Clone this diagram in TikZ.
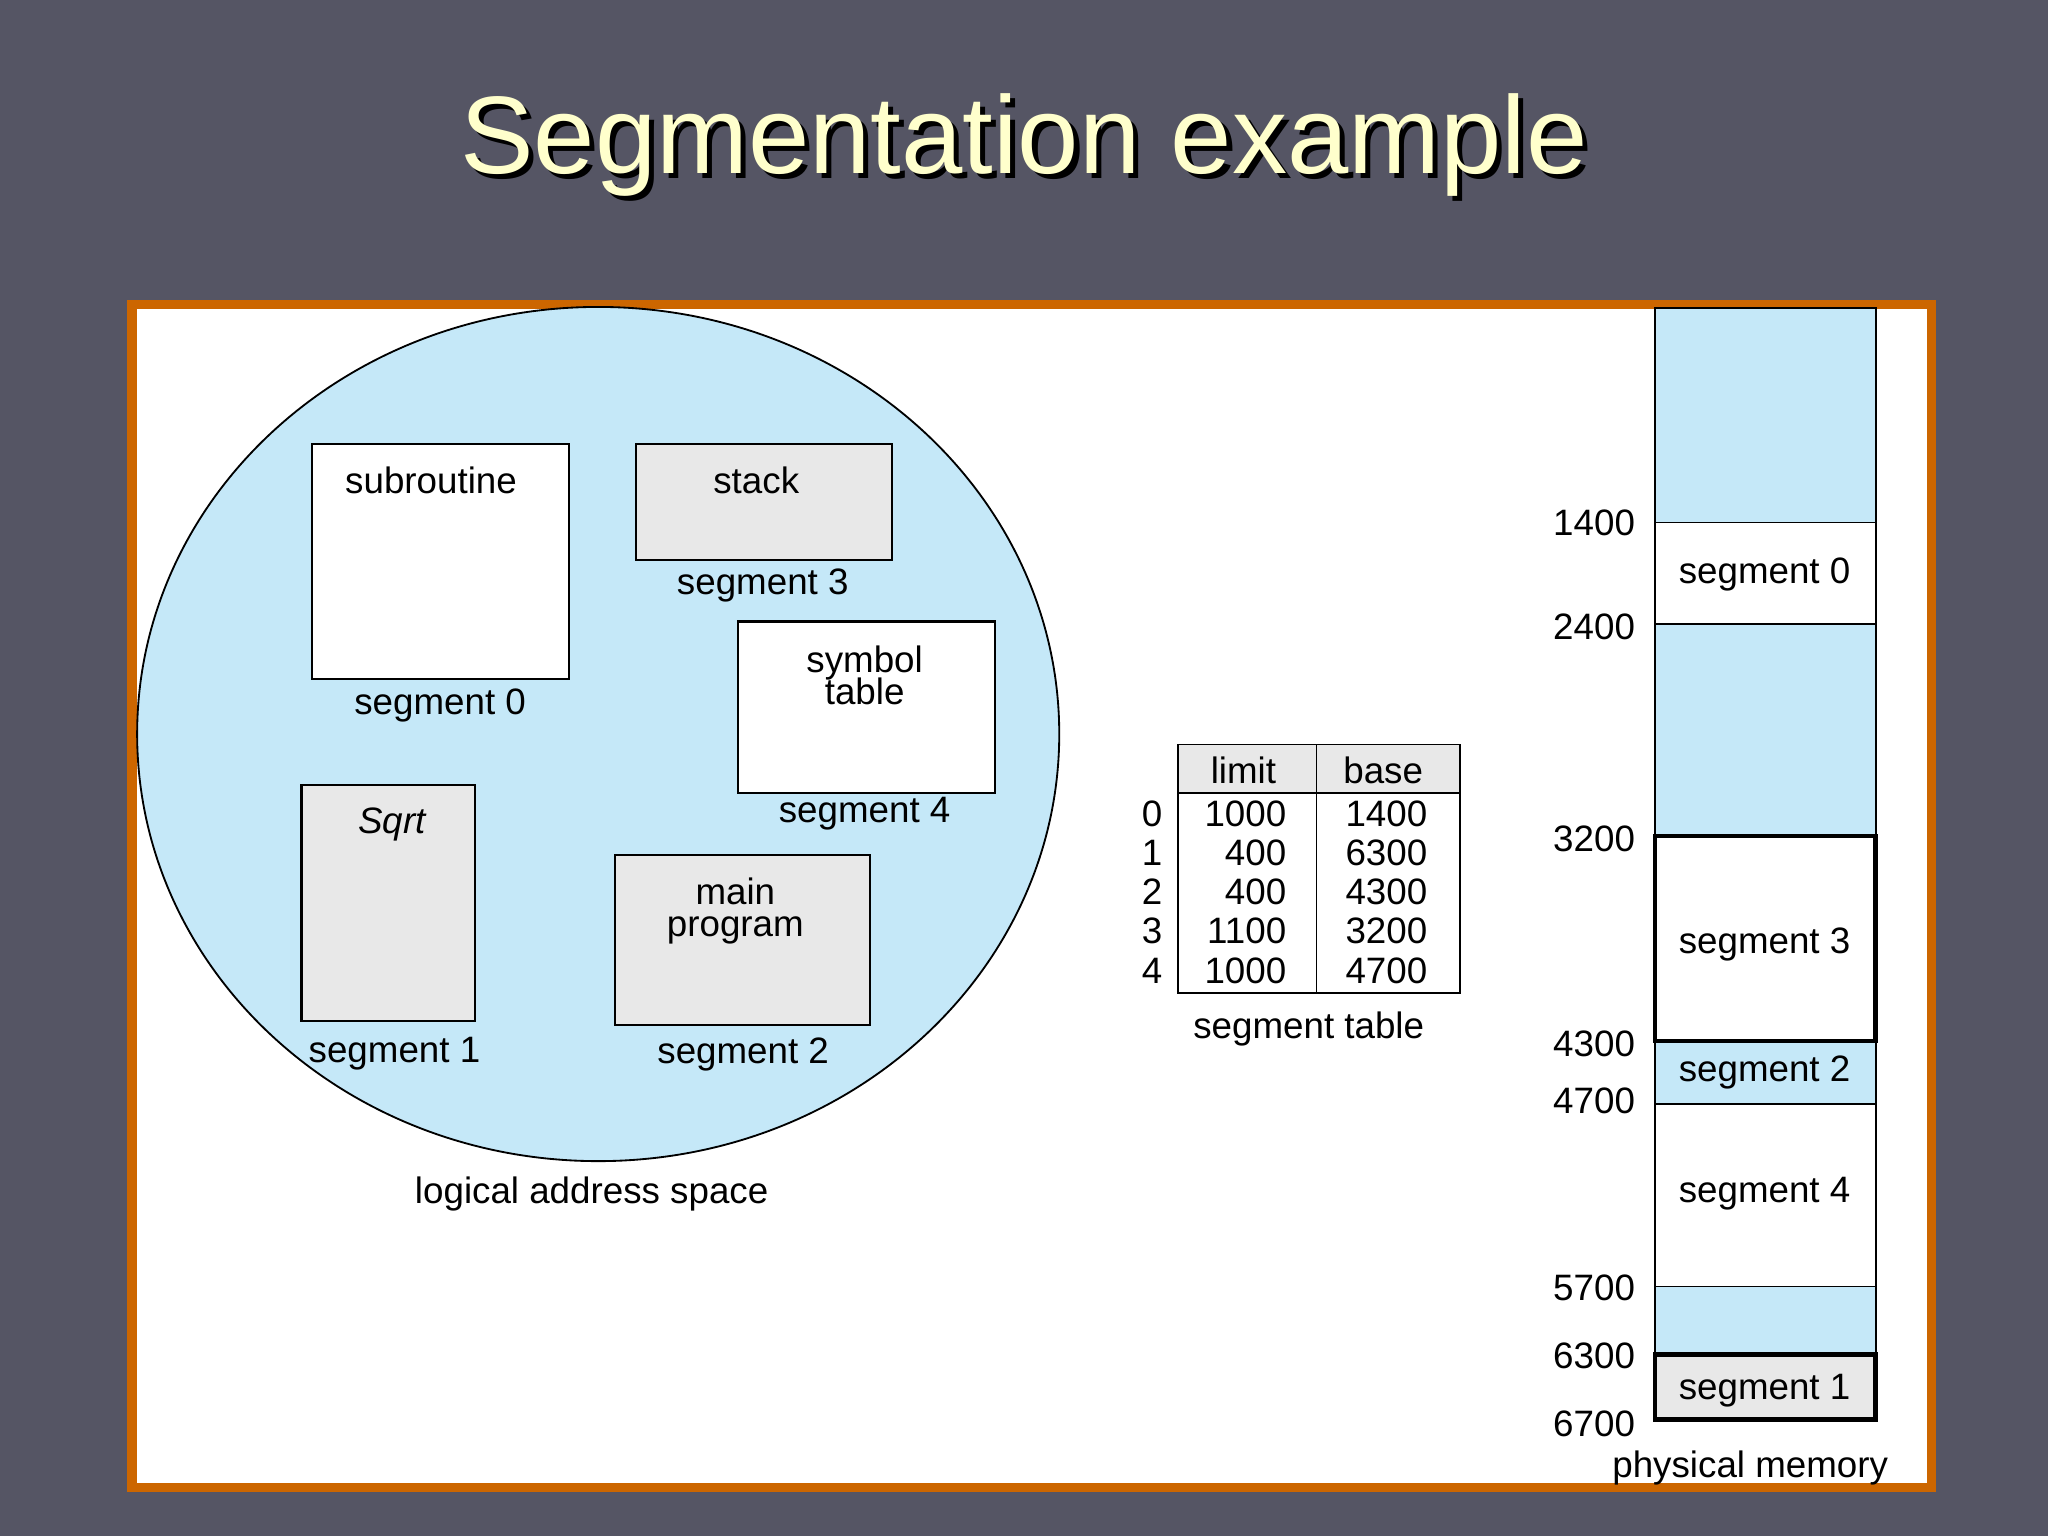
\documentclass[tikz,border=0pt]{standalone}
\usepackage{fontspec}
\setmainfont{Liberation Sans}
\begin{document}
\begin{tikzpicture}[x=0.01cm,y=-0.01cm,
  lbl/.style={font=\fontsize{8}{9}\selectfont, inner sep=1pt},
  seg/.style={draw=black, line width=0.5pt},
  mem/.style={draw=black, line width=0.4pt}]
\definecolor{bg}{RGB}{85,85,100}
\definecolor{frame}{RGB}{204,102,0}
\definecolor{lb}{RGB}{197,232,248}
\definecolor{gr}{RGB}{232,232,232}
\definecolor{ttl}{RGB}{255,255,204}
\useasboundingbox (0,0) rectangle (1568,1176);
\fill[bg] (0,0) rectangle (1568,1176);
\node[font=\fontsize{24}{28}\selectfont, text=black] at (788,115) {Segmentation example};
\node[font=\fontsize{24}{28}\selectfont, text=ttl] (title) at (784,111) {Segmentation example};
\draw[frame, line width=2pt, fill=white] (101,233) rectangle (1479,1139);
% ellipse
\fill[lb, draw=black, line width=0.4pt] (458,562) ellipse [x radius=353, y radius=327];
% segments
\node[seg, fill=white, minimum width=197*0.01cm, minimum height=180*0.01cm, anchor=north west] (s0) at (238,339) {};
\node[lbl, anchor=north] at (330,353) {subroutine};
\node[lbl] (l0) at (337,540) {segment 0};
\node[seg, fill=gr, minimum width=196*0.01cm, minimum height=89*0.01cm, anchor=north west] (s3) at (486,339) {};
\node[lbl, anchor=north] at (579,353) {stack};
\node[lbl] (l3) at (584,448) {segment 3};
\node[seg, fill=white, minimum width=197*0.01cm, minimum height=131*0.01cm, anchor=north west] (s4) at (564,475) {};
\node[lbl, anchor=north, align=center] at (662,490) {symbol\\[-2pt]table};
\node[lbl] (l4) at (662,623) {segment 4};
\node[seg, fill=gr, minimum width=133*0.01cm, minimum height=181*0.01cm, anchor=north west] (s1) at (230,600) {};
\node[lbl, anchor=north] at (300,614) {\itshape Sqrt};
\node[lbl] (l1) at (302,807) {segment 1};
\node[seg, fill=gr, minimum width=195*0.01cm, minimum height=130*0.01cm, anchor=north west] (s2) at (470,654) {};
\node[lbl, anchor=north, align=center] at (563,668) {main\\[-2pt]program};
\node[lbl] (l2) at (569,807) {segment 2};
\node[lbl] (las) at (453,914) {logical address space};
% table
\fill[gr] (902,570) rectangle (1118,607);
\draw[line width=0.4pt] (902,570) rectangle (1118,760);
\draw[line width=0.4pt] (902,607) -- (1118,607);
\draw[line width=0.4pt] (1008,570) -- (1008,760);
\node[lbl] (hl) at (952,590) {limit};
\node[lbl] (hb) at (1059,590) {base};
\foreach \i/\l/\b [count=\k from 0] in {0/1000/1400,1/400/6300,2/400/4300,3/1100/3200,4/1000/4700}{
  \node[lbl] at (882,623+30*\k) {\i};
  \node[lbl, anchor=east] at (989,623+30*\k) {\l};
  \node[lbl, anchor=east] at (1097,623+30*\k) {\b};
}
\node[lbl] (st) at (1002,788) {segment table};
% physical memory
\def\mx{1267}\def\mX{1436}
\fill[lb] (\mx,236) rectangle (\mX,400);
\fill[white] (\mx,400) rectangle (\mX,478);
\fill[lb] (\mx,478) rectangle (\mX,640);
\fill[white] (\mx,640) rectangle (\mX,797);
\fill[lb] (\mx,797) rectangle (\mX,845);
\fill[white] (\mx,845) rectangle (\mX,985);
\fill[lb] (\mx,985) rectangle (\mX,1037);
\fill[gr] (\mx,1037) rectangle (\mX,1087);
\draw[mem] (\mx,236) rectangle (\mX,1087);
\foreach \y in {400,478,797,845,985,1037} \draw[mem] (\mx,\y) -- (\mX,\y);
\draw[line width=1pt] (\mx,640) rectangle (\mX,797);
\draw[line width=1pt] (\mx,1037) rectangle (\mX,1087);
\node[lbl] at (1351,440) {segment 0};
\node[lbl] at (1351,723) {segment 3};
\node[lbl] at (1351,821) {segment 2};
\node[lbl] at (1351,914) {segment 4};
\node[lbl] at (1351,1065) {segment 1};
\foreach \v/\y in {1400/400,2400/480,3200/642,4300/799,4700/843,5700/986,6300/1038,6700/1090}
  \node[lbl, anchor=east] at (1256,\y) {\v};
\node[lbl] (pm) at (1340,1124) {physical memory};
\end{tikzpicture}
\end{document}
